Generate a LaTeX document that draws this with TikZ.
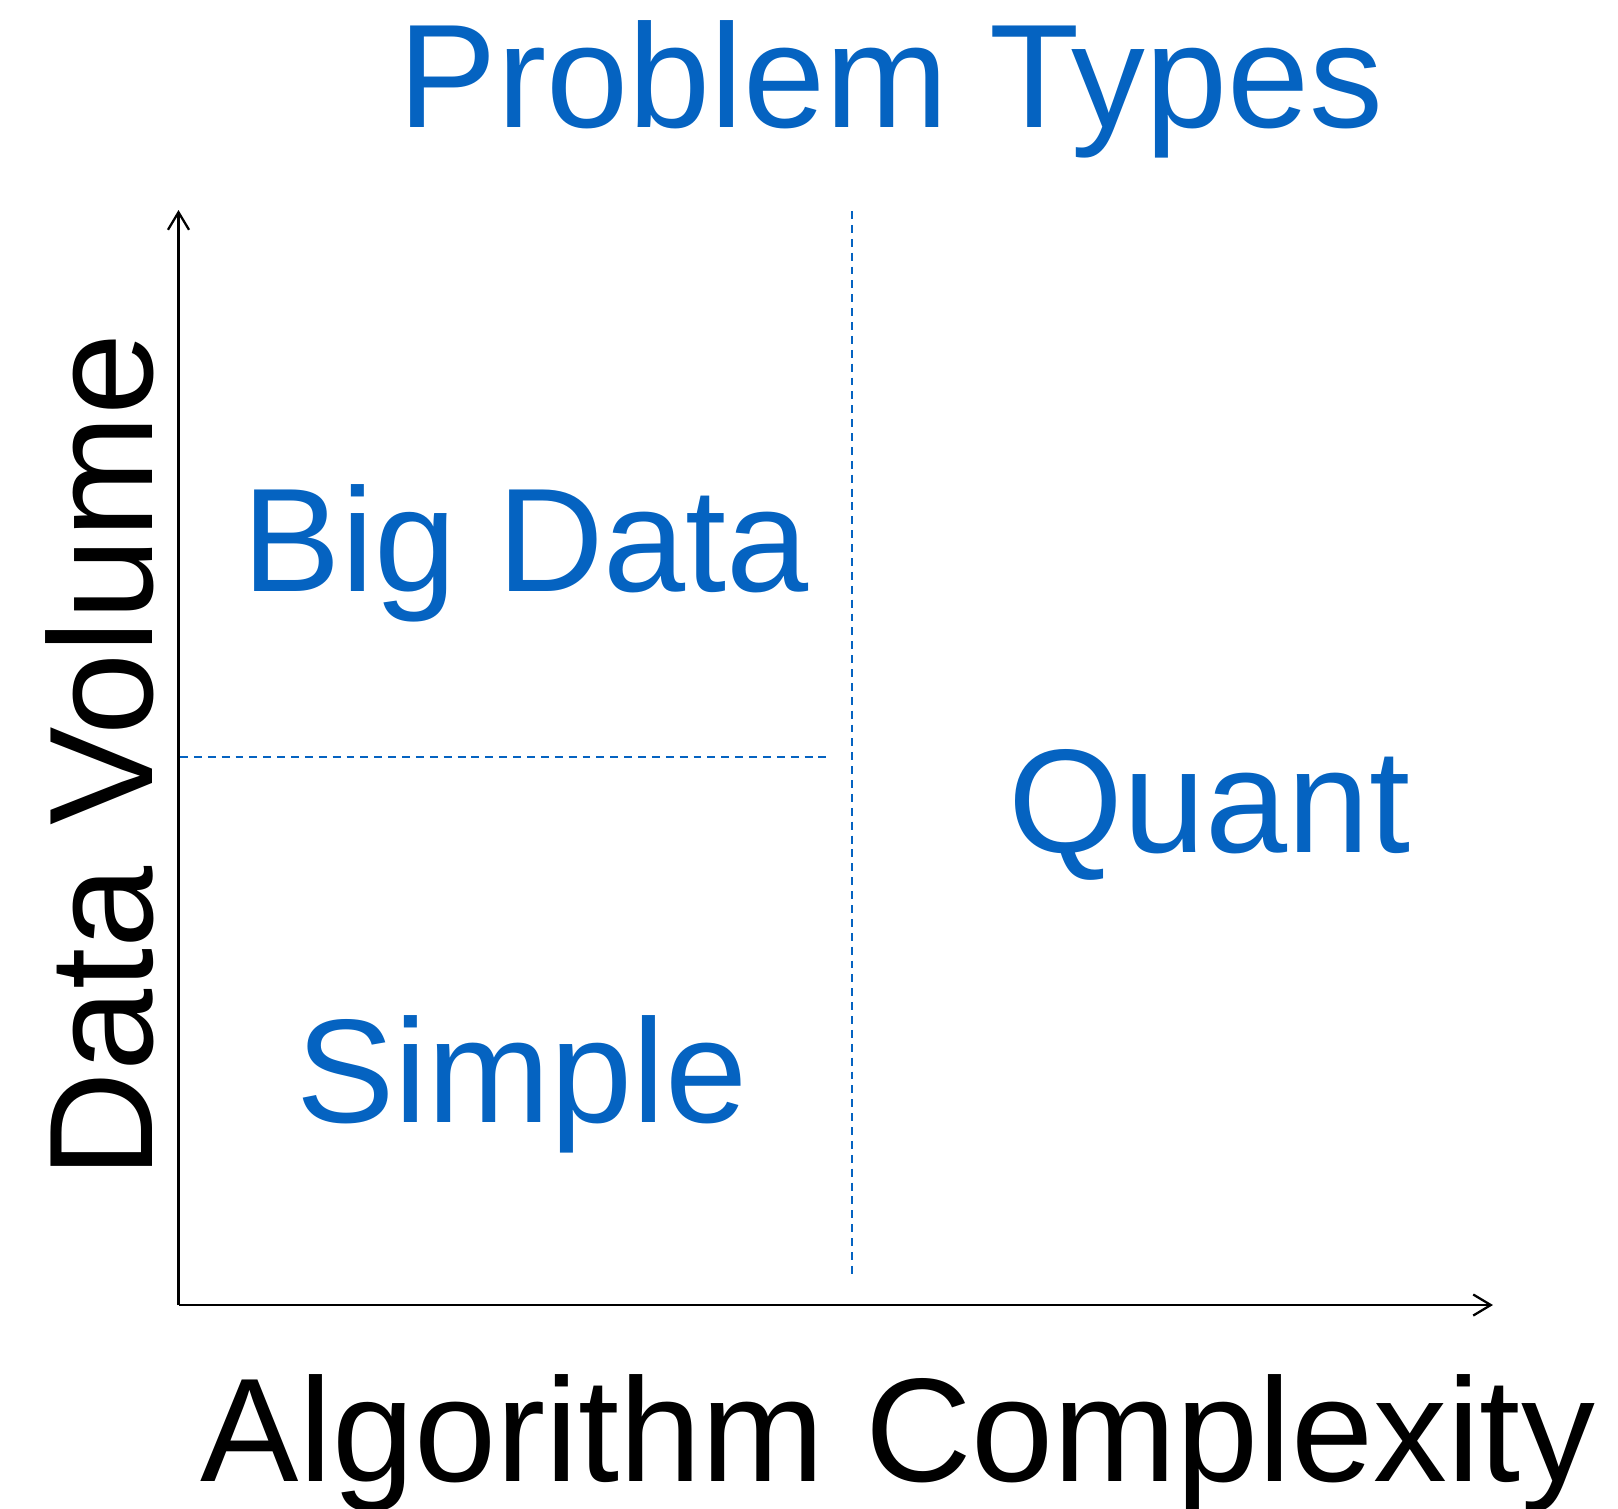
\documentclass[tikz,border=0pt]{standalone}
\usepackage{fontspec}
\setmainfont{Liberation Sans}
\usetikzlibrary{arrows.meta,positioning}
\definecolor{quadblue}{HTML}{0563C1}
\tikzset{%
	axis/.style      = {line width=1.3pt, -{Straight Barb[length=10pt,width=12pt]}},
	divider/.style   = {quadblue, line width=1.5pt, dash pattern=on 4.5pt off 3.4pt},
	quadlabel/.style = {text=quadblue, font=\fontsize{84}{90}\selectfont, inner sep=0pt, anchor=base},
	axislabel/.style = {font=\fontsize{84}{90}\selectfont, inner sep=0pt, anchor=base},
}

\begin{document}
\begin{tikzpicture}[x=0.02cm,y=-0.02cm]
	\useasboundingbox (0,0) rectangle (1618,1508);
	
	\coordinate (origin) at (178.5,1305);
	\coordinate (ytop) at (178.5,210);
	\coordinate (xend) at (1493,1305);
	\draw[axis] (origin) -- (ytop);
	\draw[axis] (origin) -- (xend);
	
	\coordinate (vtop) at (852,211);
	\coordinate (vbot) at (852,1278);
	\coordinate (hleft) at (180,757);
	\coordinate (hright) at (831,757);
	\draw[divider] (vtop) -- (vbot);
	\draw[divider] (hleft) -- (hright);
	
	\node[quadlabel] (title) at (891,127) {Problem Types};
	\node[quadlabel] (bigdata) at (526,591) {Big Data};
	\node[quadlabel] (quant) at (1210,852) {Quant};
	\node[quadlabel] (simple) at (522,1122) {Simple};
	
	\node[axislabel] (xlabel) at (898,1481) {Algorithm Complexity};
	\node[axislabel, rotate=90] (ylabel) at (152,756) {Data Volume};
\end{tikzpicture}
\end{document}
